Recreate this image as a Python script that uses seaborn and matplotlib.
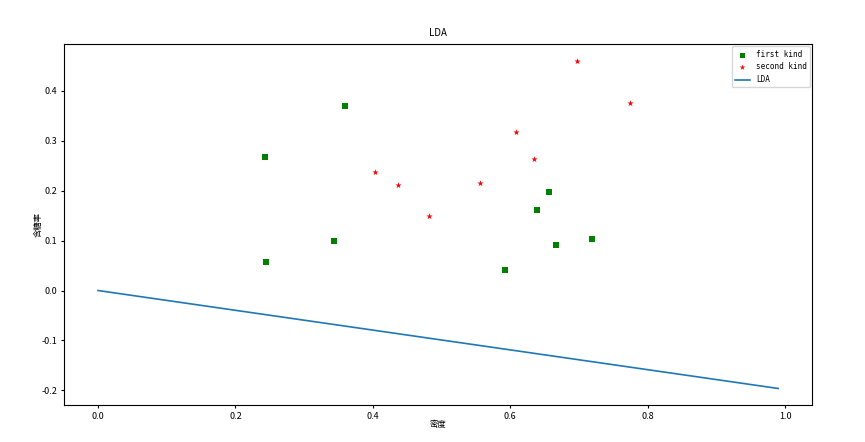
import numpy as np
import pandas as pd
import matplotlib
matplotlib.use("Agg")
import matplotlib.pyplot as plt
import seaborn as sns

plt.rcParams['font.family'] = ['Noto Sans CJK SC', 'DejaVu Sans']
plt.rcParams['axes.unicode_minus'] = False

# 西瓜数据集 3.0a
first_density = [0.666, 0.243, 0.245, 0.343, 0.639, 0.657, 0.360, 0.593, 0.719]
first_sugar = [0.091, 0.267, 0.057, 0.099, 0.161, 0.198, 0.370, 0.042, 0.103]
second_density = [0.697, 0.774, 0.634, 0.608, 0.556, 0.403, 0.481, 0.437]
second_sugar = [0.460, 0.376, 0.264, 0.318, 0.215, 0.237, 0.149, 0.211]
lda_x = [0.0, 0.99]
lda_y = [0.0, -0.196]

first = pd.DataFrame({'密度': first_density, '含糖率': first_sugar})
second = pd.DataFrame({'密度': second_density, '含糖率': second_sugar})
line = pd.DataFrame({'密度': lda_x, '含糖率': lda_y})

fig, ax = plt.subplots(figsize=(8.65, 4.42), dpi=100)
fig.subplots_adjust(left=0.074, right=0.939, top=0.9, bottom=0.084)

sns.scatterplot(data=first, x='密度', y='含糖率', marker='s', color='green',
                s=16, linewidth=0, label='first kind', ax=ax)
sns.scatterplot(data=second, x='密度', y='含糖率', marker='*', color='red',
                s=22, linewidth=0, label='second kind', ax=ax)
sns.lineplot(data=line, x='密度', y='含糖率', color='#1f77b4', linewidth=1.2,
             label='LDA', ax=ax)

ax.set_title('LDA', fontsize=7)
ax.set_xlabel('密度', fontsize=6, labelpad=-1)
ax.set_ylabel('含糖率', fontsize=6, labelpad=-1)
ax.tick_params(labelsize=6.5, length=2.5, pad=2.5)
ax.legend(loc='upper right', prop={'family': 'DejaVu Sans Mono', 'size': 5.5},
          markerscale=0.9, handlelength=2.0, borderaxespad=0.3)

plt.savefig('out.png', dpi=100)
